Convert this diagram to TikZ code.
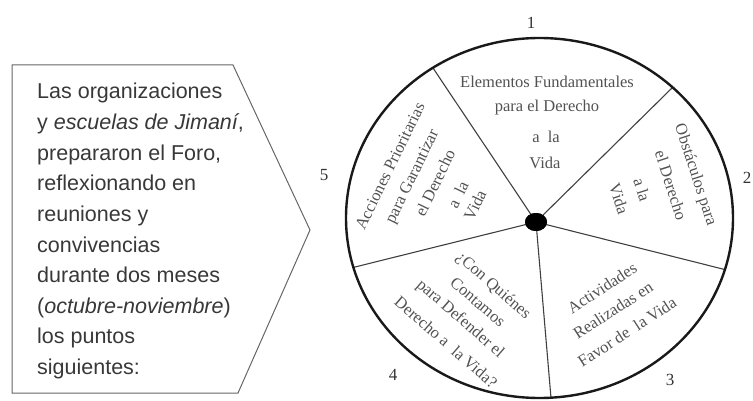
\documentclass[tikz,border=0pt]{standalone}
\usepackage{fontspec}
\usetikzlibrary{shapes.geometric}
\setmainfont{Liberation Serif}
\newfontfamily\boxfont{Liberation Sans}
\begin{document}
\begin{tikzpicture}[x=1pt,y=-1pt,
  boxline/.style={anchor=base west,inner sep=0pt,text=black!78,font=\boxfont\fontsize{21.5}{26}\selectfont},
  wheeltxt/.style={inner sep=0pt,text=black!68,font=\fontsize{16.5}{20}\selectfont},
  numtxt/.style={inner sep=0pt,text=black!80,font=\fontsize{17}{20}\selectfont},
  spoke/.style={draw=black!75,line width=1.1pt},
  rim/.style={draw=black!90,line width=2.4pt},
  outline/.style={draw=black!60,line width=1pt,line join=miter}]
\useasboundingbox (0,0) rectangle (753,401);
% left pentagon
\draw[outline] (12,65) -- (233,65) -- (310,230) -- (238,393) -- (12,393) -- cycle;
\node[boxline] (l1) at (37,99) {Las organizaciones};
\node[boxline] (l2) at (37,129.6) {y \textit{escuelas de Jimaní},};
\node[boxline] (l3) at (37,160.2) {prepararon el Foro,};
\node[boxline] (l4) at (37,190.8) {reflexionando en};
\node[boxline] (l5) at (37,221.4) {reuniones y};
\node[boxline] (l6) at (37,252) {convivencias};
\node[boxline] (l7) at (37,282.6) {durante dos meses};
\node[boxline] (l8) at (37,313.2) {(\textit{octubre-noviembre})};
\node[boxline] (l9) at (37,343.8) {los puntos};
\node[boxline] (l10) at (37,374.4) {siguientes:};
% wheel
\node[draw=none,fill=black,ellipse,minimum width=22pt,minimum height=18pt,inner sep=0pt] (hub) at (536,222) {};
\coordinate (e15) at (433,68);
\coordinate (e12) at (672.6,87.4);
\coordinate (e23) at (725,269.6);
\coordinate (e34) at (551,398);
\coordinate (e45) at (353.4,267.4);
\draw[spoke] (hub.center) -- (e15);
\draw[spoke] (hub.center) -- (e12);
\draw[spoke] (hub.center) -- (e23);
\draw[spoke] (hub.center) -- (e34);
\draw[spoke] (hub.center) -- (e45);
\node[fill=black,ellipse,minimum width=22pt,minimum height=18pt,inner sep=0pt] at (hub.center) {};
\draw[rim] (539.5,218) ellipse [x radius=193.5, y radius=180];
% numbers
\node[numtxt] (n1) at (531,23) {1};
\node[numtxt] (n2) at (747,178) {2};
\node[numtxt] (n3) at (670,380) {3};
\node[numtxt] (n4) at (393,375) {4};
\node[numtxt] (n5) at (324,175) {5};
% slice 1
\node[wheeltxt] (a1) at (547,82) {Elementos Fundamentales};
\node[wheeltxt] (a2) at (547,108) {para el Derecho};
\node[wheeltxt] (a3) at (546,137) {a~~la};
\node[wheeltxt] (a4) at (545,163) {Vida};
% slice 2
\node[wheeltxt,rotate=-72] (b1) at (695,175) {Obstáculos para};
\node[wheeltxt,rotate=-72] (b2) at (671,185) {el Derecho};
\node[wheeltxt,rotate=-72] (b3) at (642,190) {a la};
\node[wheeltxt,rotate=-72] (b4) at (619,199) {Vida};
% slice 3
\node[wheeltxt,rotate=33] (c1) at (602,288) {Actividades};
\node[wheeltxt,rotate=33] (c2) at (613,310) {Realizadas en};
\node[wheeltxt,rotate=33] (c3) at (627,332) {Favor de~~la Vida};
% slice 4
\node[wheeltxt,rotate=-41] (d1) at (493,286) {¿Con Quiénes};
\node[wheeltxt,rotate=-41] (d2) at (478,302) {Contamos};
\node[wheeltxt,rotate=-41] (d3) at (460,319) {para Defender el};
\node[wheeltxt,rotate=-41] (d4) at (446,342) {Derecho a~~la Vida?};
% slice 5
\node[wheeltxt,rotate=64] (f1) at (390,166) {Acciones Prioritarias};
\node[wheeltxt,rotate=64] (f2) at (413,177) {para Garantizar};
\node[wheeltxt,rotate=64] (f3) at (435,183) {el Derecho};
\node[wheeltxt,rotate=64] (f4) at (458,195) {a~~la};
\node[wheeltxt,rotate=64] (f5) at (475,205) {Vida};
\end{tikzpicture}
\end{document}
